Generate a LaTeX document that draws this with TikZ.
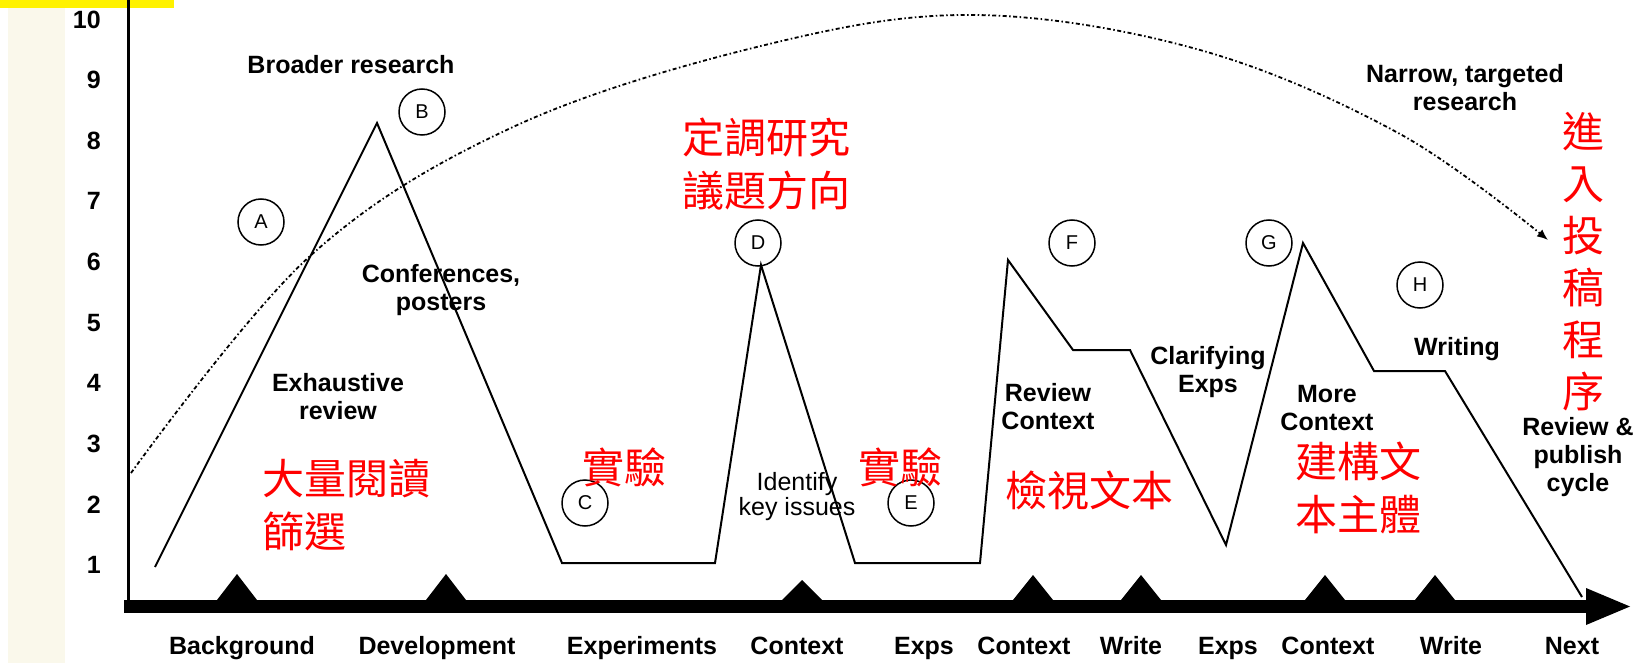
\documentclass[tikz,border=0pt]{standalone}
\usepackage{fontspec}
\setmainfont{Liberation Sans}
\newfontfamily\cjk{Noto Sans CJK TC}
\usetikzlibrary{arrows.meta}
\definecolor{strip}{RGB}{250,248,235}
\begin{document}
\begin{tikzpicture}[x=1pt,y=-1pt,line cap=butt,line join=miter,>={Latex[length=11pt,width=9pt]},
    lbl/.style={font=\fontsize{25}{28}\selectfont\bfseries,align=center,inner sep=0pt},
    cjklbl/.style={font=\cjk\fontsize{42}{53}\selectfont,text=red,align=left,inner sep=0pt,anchor=west},
    stage/.style={circle,draw,line width=1.5pt,minimum size=46pt,inner sep=0pt,font=\fontsize{20}{20}\selectfont}]
    \tikzset{declare function={yv(\v)=565-(\v-1)*60.6;}}
    \useasboundingbox (0,0) rectangle (1633,663);
    \fill[yellow] (0,0) rectangle (174,8);
    \fill[strip] (8,8) rectangle (65,663);
    % axes
    \draw[line width=3pt] (128,0)--(128,600);
    \foreach \v in {1,...,10}
        \node[lbl,anchor=east] (y\v) at (101,{yv(\v)}) {\v};
    \fill (124,600) rectangle (1587,613);
    \fill (1586,588)--(1630,606.5)--(1586,625)--cycle;
    \foreach \x/\h in {237/26,446/26,802/20,1033/25,1141/25,1325/25,1435/25}
        \fill (\x-20,600)--(\x,600-\h)--(\x+20,600)--cycle;
    \foreach \x/\t [count=\i] in {242/Background,437/Development,642/Experiments,797/Context,924/Exps,
            1024/Context,1131/Write,1228/Exps,1328/Context,1451/Write,1572/Next}
        \node[lbl,anchor=base] (t\i) at (\x,654) {\t};
    % research path
    \draw[line width=2pt] (155,567)--(377,123)--(562,563)--(715,563)--(761,265)--(855,563)--(980,563)
        --(1008,260)--(1073,350)--(1130,350)--(1226,545)--(1303,243)--(1374,371)--(1445,371)--(1582,597);
    \draw[line width=1.8pt,dash pattern=on 4pt off 2.5pt on 1.5pt off 2.5pt,->] plot[smooth,tension=.6] coordinates
        {(131,473) (309,257) (513,127) (765,45) (975,15) (1200,50) (1400,134) (1548,240)};
    \foreach \n/\p in {A/{(261,222)},B/{(422,112)},C/{(585,503)},D/{(758,243)},
            E/{(911,503)},F/{(1072,243)},G/{(1269,243)},H/{(1420,285)}}
        \node[stage] (\n) at \p {\n};
    \node[lbl] (broad) at (351,65) {Broader research};
    \node[lbl] (conf) at (441,290) {Conferences,\\posters};
    \node[lbl] (exh) at (338,397) {Exhaustive\\review};
    \node[lbl,font=\fontsize{25}{25}\selectfont] (key) at (797,497) {Identify\\key issues};
    \node[lbl] (revctx) at (1048,407) {Review\\Context};
    \node[lbl] (clar) at (1208,372) {Clarifying\\Exps};
    \node[lbl] (more) at (1327,408) {More\\Context};
    \node[lbl] (writing) at (1457,349) {Writing};
    \node[lbl] (cycle) at (1578,457) {Review \&\\publish\\cycle};
    \node[lbl] (narrow) at (1465,88) {Narrow, targeted\\research};
    % red notes
    \node[cjklbl] (read) at (262,505) {大量閱讀\\篩選};
    \node[cjklbl] (exp1) at (582,467) {實驗};
    \node[cjklbl] (exp2) at (858,467) {實驗};
    \node[cjklbl] (topic) at (682,164) {定調研究\\議題方向};
    \node[cjklbl] (text) at (1005,490) {檢視文本};
    \node[cjklbl] (body) at (1295,488) {建構文\\本主體};
    \node[cjklbl,anchor=center,align=center,font=\cjk\fontsize{42}{52}\selectfont] (submit) at (1583,262)
        {進\\入\\投\\稿\\程\\序};
\end{tikzpicture}
\end{document}
